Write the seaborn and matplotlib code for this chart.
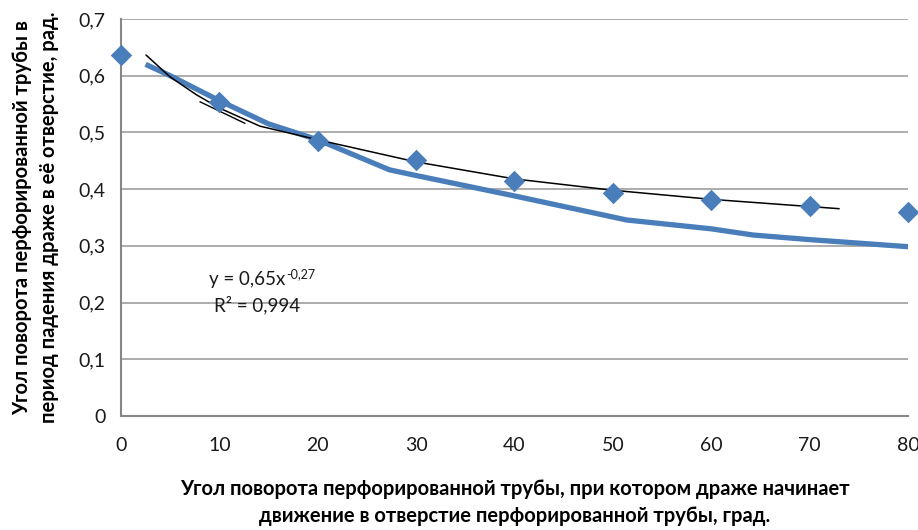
import matplotlib
matplotlib.use("Agg")
import matplotlib.pyplot as plt
import seaborn as sns
import pandas as pd

# Experimental points: pipe rotation angle at which the dragee starts moving (deg)
# vs. rotation angle during the fall into the hole (rad)
exp_x = [0, 10, 20, 30, 40, 50, 60, 70, 80]
exp_y = [0.636, 0.554, 0.485, 0.451, 0.414, 0.393, 0.381, 0.370, 0.360]

# Theoretical curve
theory_x = [2.5, 5, 10, 15, 20, 27.3, 30, 40, 51.4, 60, 64.3, 70, 80]
theory_y = [0.620, 0.600, 0.556, 0.515, 0.487, 0.434, 0.424, 0.388, 0.3456, 0.330, 0.319, 0.311, 0.2985]

# Power trend line through the experimental points
trend_x = [2.54, 4.98, 7.70, 10.06, 14.13, 20, 30, 40, 50, 60, 73]
trend_y = [0.6365, 0.598, 0.566, 0.5425, 0.511, 0.487, 0.448, 0.418, 0.398, 0.382, 0.3655]

# Short auxiliary stroke near the start of the trend
aux_x = [8.03, 12.6]
aux_y = [0.554, 0.516]

x_ticks = [0, 10, 20, 30, 40, 50, 60, 70, 80]
y_ticks = [0, 0.1, 0.2, 0.3, 0.4, 0.5, 0.6, 0.7]
y_tick_labels = ["0", "0,1", "0,2", "0,3", "0,4", "0,5", "0,6", "0,7"]

trend_eq = "y = 0,65x"
trend_exp = "-0,27"
trend_r2 = "R² = 0,994"

x_label = ("Угол поворота перфорированной трубы, при котором драже начинает\n"
           "движение в отверстие перфорированной трубы, град.")
y_label = ("Угол поворота перфорированной трубы в\n"
           "период падения драже в её отверстие, рад.")

sns.set_theme(style="white")
plt.rcParams["font.family"] = ["Lato", "DejaVu Sans"]

blue = "#4a7ebb"
grid_c = "#a6a6a6"
axis_c = "#868686"

fig = plt.figure(figsize=(9.18, 5.30), dpi=100)
ax = fig.add_axes([0.1318, 0.2151, 0.8573, 0.7491])

df_exp = pd.DataFrame({"x": exp_x, "y": exp_y})
df_th = pd.DataFrame({"x": theory_x, "y": theory_y})
df_tr = pd.DataFrame({"x": trend_x, "y": trend_y})
df_aux = pd.DataFrame({"x": aux_x, "y": aux_y})

sns.lineplot(data=df_th, x="x", y="y", ax=ax, color=blue, linewidth=3.8,
             sort=False, estimator=None, zorder=3, solid_capstyle="butt")
sns.lineplot(data=df_tr, x="x", y="y", ax=ax, color="black", linewidth=1.1,
             sort=False, estimator=None, zorder=4)
sns.lineplot(data=df_aux, x="x", y="y", ax=ax, color="black", linewidth=1.0,
             sort=False, estimator=None, zorder=4)
sns.scatterplot(data=df_exp, x="x", y="y", ax=ax, color=blue, marker="D",
                s=120, edgecolor=blue, linewidth=0, zorder=5, clip_on=False)

ax.set_xlim(0, 80)
ax.set_ylim(0, 0.7)
ax.set_xticks(x_ticks)
ax.set_xticklabels([str(v) for v in x_ticks])
ax.set_yticks(y_ticks)
ax.set_yticklabels(y_tick_labels)

ax.grid(axis="y", color=grid_c, linewidth=1.3)
ax.grid(axis="x", visible=False)
ax.set_axisbelow(True)

for side in ["top", "right"]:
    ax.spines[side].set_visible(False)
for side in ["left", "bottom"]:
    ax.spines[side].set_color(axis_c)
    ax.spines[side].set_linewidth(1.5)

ax.tick_params(axis="both", which="major", direction="out", length=5, width=1.3,
               color=axis_c, labelsize=14, labelcolor="#1a1a1a")
ax.tick_params(axis="x", pad=10)
ax.tick_params(axis="y", pad=6)

ax.set_xlabel(x_label, fontsize=14.5, fontweight="bold", labelpad=18,
              linespacing=1.45, color="black")
ax.set_ylabel(y_label, fontsize=14.5, fontweight="bold", labelpad=14,
              linespacing=1.45, color="black")

eq = ax.text(12.8, 0.240, trend_eq, fontsize=13.5, ha="center", va="center",
             color="#1a1a1a")
ax.annotate(trend_exp, xy=(1, 1), xycoords=eq, xytext=(0.5, 2),
            textcoords="offset points", fontsize=9, ha="left", va="top",
            color="#1a1a1a")
ax.text(13.8, 0.196, trend_r2, fontsize=13.5, ha="center", va="center",
        color="#1a1a1a")

fig.savefig("out.png", dpi=100)
